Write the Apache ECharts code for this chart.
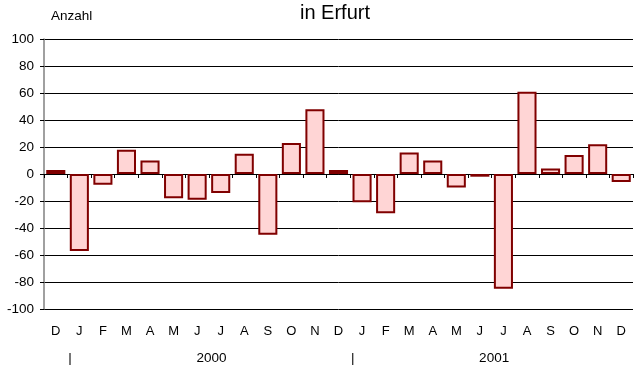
<!DOCTYPE html>
<html>
<head>
<meta charset="utf-8">
<script src="https://cdn.jsdelivr.net/npm/echarts@6/dist/echarts.min.js"></script>
<style>
html,body{margin:0;padding:0;background:#fff;}
#chart{width:636px;height:365px;}
</style>
</head>
<body>
<div id="chart"></div>
<script>
// Data
const months = ['D','J','F','M','A','M','J','J','A','S','O','N','D','J','F','M','A','M','J','J','A','S','O','N','D'];
const values = [3,-57,-8,18,10,-18,-19,-14,15,-45,23,48,3,-21,-29,16,10,-10,-2,-85,61,4,14,22,-6];
// Year row labels at category boundaries (26 boundaries)
const yearRow = ['','|','','','','','','2000','','','','','','|','','','','','','2001','','','','','',''];
const yTicks = [-100,-80,-60,-40,-20,0,20,40,60,80,100];

const FONT = 'Liberation Sans, Arial, sans-serif';
const chart = echarts.init(document.getElementById('chart'), null, {renderer:'canvas'});
chart.setOption({
  animation:false,
  backgroundColor:'#ffffff',
  title:[
    {text:'in Erfurt', left:335, top:3, padding:0, textAlign:'center',
     textStyle:{fontFamily:FONT, fontSize:20, fontWeight:'normal', color:'#000'}},
    {text:'Anzahl', left:51, top:9, padding:0,
     textStyle:{fontFamily:FONT, fontSize:13.5, fontWeight:'normal', color:'#000'}}
  ],
  grid:{left:44, top:39, width:596.6, height:273, containLabel:false},
  xAxis:[
    { // zero line with ticks
      type:'category', data:months, position:'bottom',
      axisLine:{show:true, onZero:true, lineStyle:{color:'#000', width:1}},
      axisTick:{show:true, alignWithLabel:false, length:4, lineStyle:{color:'#000'}},
      axisLabel:{show:false}, splitLine:{show:false}
    },
    { // month labels at bottom
      type:'category', data:months, position:'bottom', gridIndex:0,
      axisLine:{show:false, onZero:false}, axisTick:{show:false},
      axisLabel:{show:true, interval:0, margin:16, fontFamily:FONT, fontSize:13, color:'#000'},
      splitLine:{show:false}
    },
    { // year row
      type:'category', data:yearRow, boundaryGap:false, position:'bottom', gridIndex:0,
      axisLine:{show:false, onZero:false}, axisTick:{show:false},
      axisLabel:{show:true, interval:0, margin:42, fontFamily:FONT, fontSize:13.5, color:'#000',
                 padding:[0,0,0,5]},
      splitLine:{show:false}
    }
  ],
  yAxis:{
    type:'value', min:-100, max:100, interval:20,
    axisLine:{show:true, lineStyle:{color:'#808080', width:1.5}},
    axisTick:{show:true, length:4, lineStyle:{color:'#000'}},
    axisLabel:{margin:10, fontFamily:FONT, fontSize:13.5, color:'#000',
               formatter:(v)=> yTicks.indexOf(v) >= 0 ? String(v) : ''},
    splitLine:{show:true, lineStyle:{color:'#000', width:1}}
  },
  series:[{
    type:'bar', xAxisIndex:0, data:values,
    barCategoryGap:'19%',
    itemStyle:{color:'#FFD5D5', borderColor:'#800000', borderWidth:2}
  }]
});
</script>
</body>
</html>
